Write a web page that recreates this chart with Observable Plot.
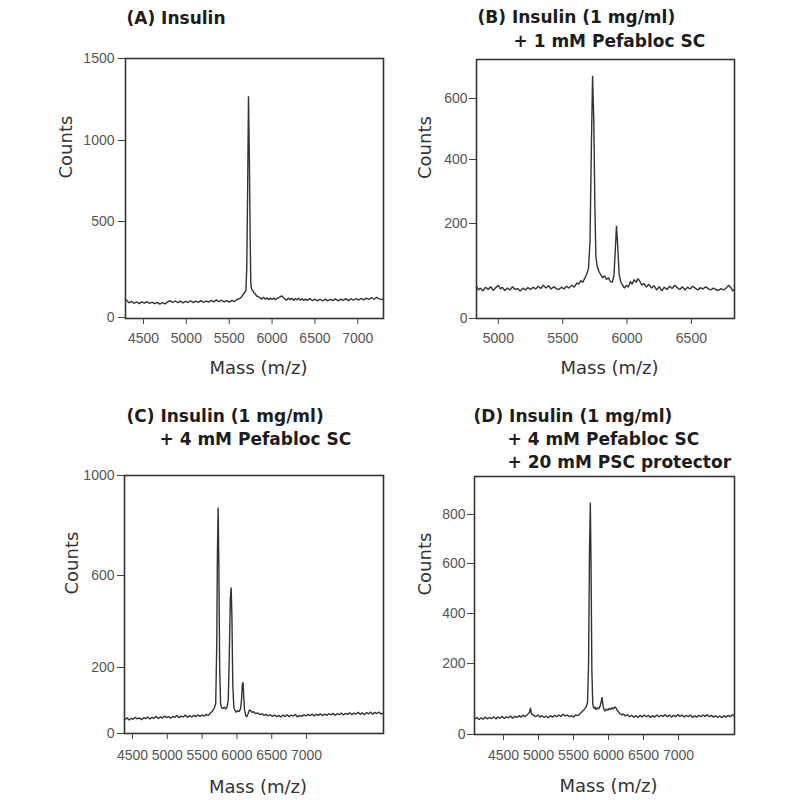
<!DOCTYPE html>
<html><head><meta charset="utf-8">
<script src="https://cdn.jsdelivr.net/npm/d3@7"></script>
<script src="https://cdn.jsdelivr.net/npm/@observablehq/plot@0.6"></script>
<style>
body{margin:0;background:#fff}
#wrap{position:relative;width:800px;height:800px;overflow:hidden;background:#fff}
.panel{position:absolute;width:400px;height:400px}
.panel svg{position:absolute;left:0;top:0;overflow:visible}
</style></head><body><div id="wrap"></div>
<script>
// ---------- data ----------
const titlesA = ["(A) Insulin"];
const titlesB = ["(B) Insulin (1 mg/ml)", "+ 1 mM Pefabloc SC"];
const titlesC = ["(C) Insulin (1 mg/ml)", "+ 4 mM Pefabloc SC"];
const titlesD = ["(D) Insulin (1 mg/ml)", "+ 4 mM Pefabloc SC", "+ 20 mM PSC protector"];
const xLabel = "Mass (m/z)";
const yLabel = "Counts";

const xTicksA = [4500, 5000, 5500, 6000, 6500, 7000];
const xTicksB = [5000, 5500, 6000, 6500];
const xTicksC = [4500, 5000, 5500, 6000, 6500, 7000];
const xTicksD = [4500, 5000, 5500, 6000, 6500, 7000];
const yTicksA = [0, 500, 1000, 1500];
const yTicksB = [0, 200, 400, 600];
const yTicksC = [0, 200, 600, 1000];
const yTicksD = [0, 200, 400, 600, 800];

const massA = [4300,4330,4360,4390,4420,4450,4480,4510,4540,4570,4600,4630,4660,4690,4720,4750,4780,4810,4840,4870,4900,4930,4960,4990,5020,5050,5080,5110,5140,5170,5200,5230,5260,5290,5320,5350,5380,5410,5440,5470,5500,5530,5560,5590,5620,5640,5660,5680,5695,5705,5715,5725,5735,5745,5752,5760,5775,5790,5805,5820,5840,5860,5880,5900,5920,5940,5960,5980,6000,6020,6040,6060,6080,6100,6115,6130,6150,6170,6190,6210,6230,6250,6270,6290,6310,6330,6350,6370,6390,6410,6440,6470,6500,6530,6560,6590,6620,6650,6680,6710,6740,6770,6800,6830,6860,6890,6920,6950,6980,7010,7040,7070,7100,7130,7160,7190,7220,7250,7280,7300];
const countsA = [92,76,84,74,82,72,81,75,83,73,80,72,79,70,78,71,80,88,78,86,77,85,76,84,78,87,77,85,79,88,78,86,80,89,81,92,82,90,81,88,80,89,83,94,98,106,118,130,140,260,700,1270,900,400,180,148,140,128,122,112,108,102,96,106,95,103,93,101,94,102,93,100,104,110,112,104,96,90,102,92,100,89,99,91,101,90,98,88,97,89,98,88,96,87,95,86,96,87,95,88,97,87,96,89,98,88,97,90,99,91,100,92,101,94,104,95,105,97,93,99];

const massB = [4830,4845,4860,4880,4900,4920,4940,4960,4980,5000,5015,5030,5050,5070,5090,5110,5130,5150,5170,5190,5210,5230,5250,5270,5290,5310,5330,5350,5370,5390,5410,5430,5450,5470,5490,5510,5530,5550,5570,5590,5610,5625,5640,5655,5670,5685,5700,5712,5722,5732,5742,5750,5758,5768,5780,5795,5810,5825,5840,5855,5870,5885,5898,5908,5918,5928,5938,5950,5965,5980,5995,6010,6025,6040,6055,6070,6085,6100,6115,6130,6150,6170,6190,6210,6230,6250,6270,6290,6310,6330,6350,6370,6390,6410,6430,6450,6470,6490,6510,6530,6550,6570,6590,6610,6630,6650,6670,6690,6710,6730,6750,6770,6790,6805,6820,6835];
const countsB = [68,60,64,58,66,61,67,59,65,70,62,66,59,64,60,67,61,63,58,64,60,65,61,66,62,68,63,70,64,69,62,67,63,61,66,62,68,64,70,66,75,72,80,76,84,92,105,160,420,675,520,250,130,110,100,92,86,90,82,86,78,76,90,140,195,150,95,78,70,64,70,66,78,72,82,76,84,78,70,74,66,72,64,69,60,67,58,66,61,68,63,70,65,61,67,60,66,62,68,64,60,65,62,67,63,60,64,61,59,63,60,64,70,66,58,62];

const massC = [4390,4420,4450,4480,4510,4540,4570,4600,4630,4660,4690,4720,4750,4780,4810,4840,4870,4900,4930,4960,4990,5020,5050,5080,5110,5140,5170,5200,5230,5260,5290,5320,5350,5380,5410,5440,5470,5500,5530,5560,5590,5620,5650,5675,5695,5710,5720,5730,5740,5752,5765,5780,5800,5820,5840,5860,5875,5890,5905,5917,5928,5940,5955,5970,5990,6010,6030,6050,6065,6078,6088,6098,6110,6125,6140,6160,6180,6200,6220,6240,6270,6300,6330,6360,6390,6420,6450,6480,6510,6540,6570,6600,6630,6660,6690,6720,6750,6780,6810,6840,6870,6900,6930,6960,6990,7020,7050,7080,7110,7140,7170,7200,7230,7260,7290,7320,7350,7380,7410,7440,7470,7500,7530,7560,7590,7620,7650,7680,7710,7740,7770,7800,7830,7860,7890,7920,7950,7980,8010,8040,8070,8100];
const countsC = [42,48,41,46,43,49,44,47,42,48,45,50,44,49,46,52,45,50,47,53,48,51,46,52,49,55,48,53,50,56,49,54,50,55,51,57,52,56,53,58,55,62,68,78,90,300,700,872,650,200,90,78,76,80,74,82,100,250,500,548,420,150,80,70,64,70,66,74,100,150,155,110,70,55,50,60,72,68,64,66,60,62,57,60,55,58,53,57,52,56,51,55,50,56,52,57,51,56,53,58,50,55,52,57,53,58,54,59,53,58,55,60,54,59,55,60,56,61,55,60,57,62,56,61,58,63,57,62,59,64,58,63,57,64,59,65,58,64,60,65,59,62];

const massD = [4090,4120,4150,4180,4210,4240,4270,4300,4330,4360,4390,4420,4450,4480,4510,4540,4570,4600,4630,4660,4690,4720,4750,4780,4810,4840,4870,4885,4900,4930,4960,4990,5020,5050,5080,5110,5140,5170,5200,5230,5260,5290,5320,5350,5380,5410,5440,5470,5500,5530,5560,5590,5620,5650,5680,5700,5715,5728,5740,5750,5762,5775,5790,5805,5820,5840,5860,5880,5895,5908,5920,5935,5950,5970,5990,6010,6030,6050,6070,6090,6110,6130,6150,6170,6190,6210,6240,6270,6300,6330,6360,6390,6420,6450,6480,6510,6540,6570,6600,6630,6660,6690,6720,6750,6780,6810,6840,6870,6900,6930,6960,6990,7020,7050,7080,7110,7140,7170,7200,7230,7260,7290,7320,7350,7380,7410,7440,7470,7500,7530,7560,7590,7620,7650,7680,7710,7740,7770,7795];
const countsD = [44,48,42,47,43,49,44,48,45,50,44,49,46,51,45,50,47,52,46,51,48,53,49,55,50,56,62,75,58,54,50,55,49,53,48,52,47,53,49,54,50,55,51,57,52,55,50,53,49,55,53,58,64,70,78,90,200,650,848,600,180,85,74,78,70,76,72,80,92,105,82,70,66,72,68,74,70,76,72,78,74,66,62,58,55,58,52,56,50,54,49,53,48,54,49,55,50,54,48,53,49,55,50,54,51,56,50,55,49,54,50,56,51,55,49,54,50,55,48,53,49,54,50,55,51,56,50,54,49,53,48,52,47,53,49,54,50,56,52];

// ---------- layout / style ----------
const panels = [
  {left:0, top:0, mass:massA, counts:countsA, titles:titlesA, xTicks:xTicksA, yTicks:yTicksA,
   xDomain:[4290,7300], yDomain:[0,500,1000,1500], yRange:[317,221,140,58],
   m:{t:58,r:17,b:82,l:125}, xPad:9, yPad:4,
   tpos:[[1,-35]], cdx:-59, mdy:55},
  {left:400, top:0, mass:massB, counts:countsB, titles:titlesB, xTicks:xTicksB, yTicks:yTicksB,
   xDomain:[4830,6835], yDomain:[0,200,400,600,728], yRange:[318,223,159,98,59],
   m:{t:59,r:66,b:82,l:76}, xPad:9, yPad:2,
   tpos:[[1,-37],[37,-13]], cdx:-51, mdy:55},
  {left:0, top:400, mass:massC, counts:countsC, titles:titlesC, xTicks:xTicksC, yTicks:yTicksC,
   xDomain:[4385,8105], yDomain:[0,200,600,1000], yRange:[333,267,175,75],
   m:{t:75,r:17,b:67,l:124}, xPad:11, yPad:3,
   tpos:[[2,-54],[35,-31]], cdx:-52, mdy:59},
  {left:400, top:400, mass:massD, counts:countsD, titles:titlesD, xTicks:xTicksD, yTicks:yTicksD,
   xDomain:[4085,7800], yDomain:[0,200,400,600,800,955], yRange:[334,263,213,163,114,76],
   m:{t:76,r:66,b:66,l:74}, xPad:10, yPad:2,
   tpos:[[-1,-55],[33,-32],[33,-9]], cdx:-49, mdy:57}
];

const wrap = document.getElementById("wrap");
for (const p of panels) {
  const data = p.mass.map((m, i) => ({m, c: p.counts[i]}));
  const titleMarks = p.titles.map((t, i) => Plot.text([t], {
    text: d => d, frameAnchor: "top-left", textAnchor: "start", lineAnchor: "bottom",
    dx: p.tpos[i][0], dy: p.tpos[i][1], fontFamily: "DejaVu Sans", fontWeight: "bold",
    fontSize: 17, fill: "#1c1c1c"
  }));
  const svg = Plot.plot({
    width: 400, height: 400,
    marginTop: p.m.t, marginRight: p.m.r, marginBottom: p.m.b, marginLeft: p.m.l,
    style: {fontFamily: "Liberation Sans, Arial, sans-serif", background: "transparent", overflow: "visible"},
    x: {type: "linear", domain: p.xDomain},
    y: {type: "linear", domain: p.yDomain, range: p.yRange},
    marks: [
      Plot.line(data, {x: "m", y: "c", stroke: "#333", strokeWidth: 1.4, strokeLinejoin: "miter"}),
      Plot.frame({stroke: "#333", strokeWidth: 1.6}),
      Plot.axisX({ticks: p.xTicks, tickFormat: d => String(d), tickSize: 6, tickPadding: p.xPad,
        fontSize: 14, fill: "#555", stroke: "#444", label: null}),
      Plot.axisY({ticks: p.yTicks, tickFormat: d => String(d), tickSize: 7, tickPadding: p.yPad,
        fontSize: 14, fill: "#555", stroke: "#444", label: null}),
      Plot.text([yLabel], {text: d => d, frameAnchor: "left", rotate: -90, lineAnchor: "middle",
        dx: p.cdx, dy: -10, fontFamily: "DejaVu Sans", fontSize: 18, fill: "#333"}),
      Plot.text([xLabel], {text: d => d, frameAnchor: "bottom", lineAnchor: "bottom",
        dx: 4, dy: p.mdy, fontFamily: "DejaVu Sans", fontSize: 18, fill: "#333"}),
      ...titleMarks
    ]
  });
  const div = document.createElement("div");
  div.className = "panel";
  div.style.left = p.left + "px";
  div.style.top = p.top + "px";
  div.appendChild(svg);
  wrap.appendChild(div);
}
</script>
</body></html>
